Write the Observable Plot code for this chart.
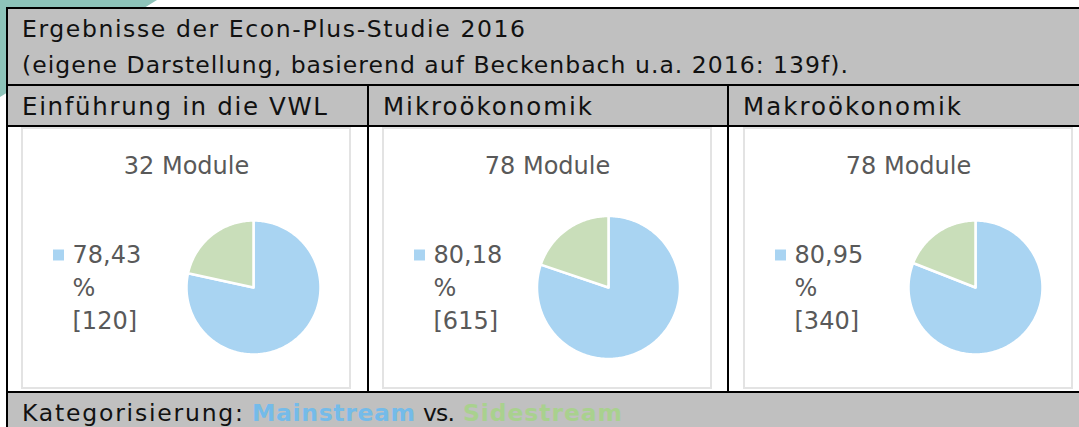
<!DOCTYPE html>
<html><head><meta charset="utf-8">
<script src="https://cdn.jsdelivr.net/npm/d3@7"></script>
<script src="https://cdn.jsdelivr.net/npm/@observablehq/plot@0.6"></script>
<style>
html,body{margin:0;padding:0;background:#fff;}
#page{position:relative;width:1079px;height:427px;overflow:hidden;font-family:"DejaVu Sans",sans-serif;}
.teal{position:absolute;left:0;top:0;width:160px;height:100px;background:#8dc3b9;clip-path:polygon(0 0,157px 0,0 97px);}
#frame{position:absolute;left:0;top:0;}
.box{position:absolute;top:127px;width:326px;height:258px;border:2px solid #e3e3e3;background:#fff;}
.box svg{display:block;}
</style></head><body><div id="page"><div class="teal"></div></div>
<script>
// ---- data ----
const titleLines = ["Ergebnisse der Econ-Plus-Studie 2016", "(eigene Darstellung, basierend auf Beckenbach u.a. 2016: 139f)."];
const courses = ["Einführung in die VWL", "Mikroökonomik", "Makroökonomik"];
const moduleCounts = [32, 78, 78];
const mainstreamShare = [78.43, 80.18, 80.95];
const mainstreamCounts = [120, 615, 340];
const categories = ["Mainstream", "Sidestream"];
const categoryColors = ["#a9d4f2", "#c9deba"];
const footerParts = ["Kategorisierung:", "Mainstream", "vs.", "Sidestream"];

// ---- layout ----
const page = document.getElementById("page");
const W = 1079, H = 427;
const colX = [8, 369, 729];
const boxX = [21, 382, 743];
const pieLayout = [{cx: 230, cy: 158, r: 67}, {cx: 224, cy: 158, r: 71.5}, {cx: 230, cy: 158, r: 67}];
const headerWidths = [305, 209, 218];
const font = '"DejaVu Sans", sans-serif';
const FS = 23.5;

const svg = d3.create("svg").attr("id", "frame").attr("width", W).attr("height", H)
  .style("font-family", font);
const gray = "#c0c0c0";
svg.append("rect").attr("x", 8).attr("y", 9).attr("width", W).attr("height", 75).attr("fill", gray);
svg.append("rect").attr("x", 8).attr("y", 86).attr("width", W).attr("height", 39).attr("fill", gray);
svg.append("rect").attr("x", 8).attr("y", 127).attr("width", W).attr("height", 264).attr("fill", "#fff");
svg.append("rect").attr("x", 8).attr("y", 393).attr("width", W).attr("height", 40).attr("fill", gray);
for (const y of [7, 84, 125, 391]) svg.append("rect").attr("x", 6).attr("y", y).attr("width", W).attr("height", 2).attr("fill", "#000");
svg.append("rect").attr("x", 6).attr("y", 7).attr("width", 2).attr("height", H).attr("fill", "#000");
for (const x of [367, 727]) svg.append("rect").attr("x", x).attr("y", 84).attr("width", 2).attr("height", 309).attr("fill", "#000");

svg.append("text").attr("x", 22).attr("y", 37).attr("font-size", FS).attr("fill", "#111")
  .attr("textLength", 503).attr("lengthAdjust", "spacing").text(titleLines[0]);
svg.append("text").attr("x", 22).attr("y", 73).attr("font-size", FS).attr("fill", "#111")
  .attr("textLength", 826).attr("lengthAdjust", "spacing").text(titleLines[1]);
courses.forEach((c, i) => {
  svg.append("text").attr("x", colX[i] + 14).attr("y", 115).attr("font-size", 24.5).attr("fill", "#111")
    .attr("textLength", headerWidths[i]).attr("lengthAdjust", "spacing").text(c);
});
const footX = [22, 252, 423, 463], footW = [221, 163, 32, 159];
const footFill = ["#111", "#74bbe9", "#111", "#a9d18e"];
footerParts.forEach((t, i) => {
  svg.append("text").attr("x", footX[i]).attr("y", 421).attr("font-size", FS)
    .attr("font-weight", i % 2 ? "bold" : "normal").attr("fill", footFill[i])
    .attr("textLength", footW[i]).attr("lengthAdjust", "spacing").text(t);
});
page.appendChild(svg.node());

function slicePoints(share) {
  const arcs = d3.pie().sort(null)([share, 100 - share]);
  return arcs.map((a, i) => {
    const pts = [{x: 0, y: 0}];
    const n = Math.max(2, Math.ceil((a.endAngle - a.startAngle) / (Math.PI / 180)));
    for (let k = 0; k <= n; k++) {
      const t = a.startAngle + (a.endAngle - a.startAngle) * k / n;
      pts.push({x: Math.sin(t), y: Math.cos(t)});
    }
    pts.push({x: 0, y: 0});
    return {category: categories[i], color: categoryColors[i], pts};
  });
}

courses.forEach((c, i) => {
  const box = document.createElement("div");
  box.className = "box";
  box.style.left = boxX[i] + "px";
  page.appendChild(box);
  const {cx, cy, r} = pieLayout[i];
  const slices = slicePoints(mainstreamShare[i]);
  const label = `${mainstreamShare[i].toFixed(2).replace(".", ",")}\n%\n[${mainstreamCounts[i]}]`;
  const chart = Plot.plot({
    width: 326, height: 258, margin: 0,
    x: {domain: [-1, 1], range: [cx - r, cx + r], axis: null},
    y: {domain: [-1, 1], range: [cy + r, cy - r], axis: null},
    style: {fontFamily: font, background: "#fff", overflow: "visible"},
    marks: [
      ...slices.map(s => Plot.line(s.pts, {x: "x", y: "y", fill: s.color, stroke: "#fff", strokeWidth: 2.5, strokeLinejoin: "round"})),
      Plot.text([`${moduleCounts[i]} Module`], {frameAnchor: "top", dy: 44, lineAnchor: "bottom", fontSize: 24, fill: "#595959"}),
      Plot.dot([categories[0]], {frameAnchor: "top-left", dx: 35, dy: 125.5, symbol: "square", r: 6.2, fill: categoryColors[0], stroke: null}),
      Plot.text([label], {frameAnchor: "top-left", dx: 49, dy: 199, textAnchor: "start", lineAnchor: "bottom", lineHeight: 33 / 24, fontSize: 24, fill: "#595959"})
    ]
  });
  box.appendChild(chart);
});
</script></body></html>
